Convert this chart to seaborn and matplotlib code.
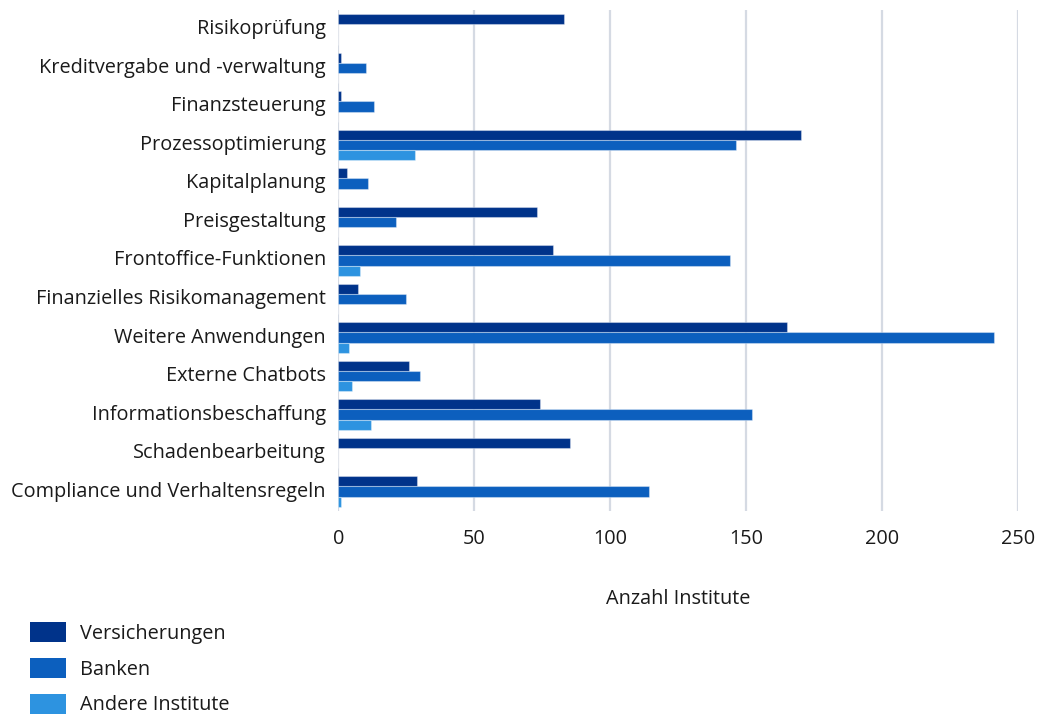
import matplotlib
matplotlib.use("Agg")
import matplotlib.pyplot as plt
import matplotlib.transforms as mtransforms
import seaborn as sns
import pandas as pd

categories = [
    "Risikoprüfung",
    "Kreditvergabe und -verwaltung",
    "Finanzsteuerung",
    "Prozessoptimierung",
    "Kapitalplanung",
    "Preisgestaltung",
    "Frontoffice-Funktionen",
    "Finanzielles Risikomanagement",
    "Weitere Anwendungen",
    "Externe Chatbots",
    "Informationsbeschaffung",
    "Schadenbearbeitung",
    "Compliance und Verhaltensregeln",
]
series = ["Versicherungen", "Banken", "Andere Institute"]
versicherungen = [83, 1, 1, 170, 3, 73, 79, 7, 165, 26, 74, 85, 29]
banken = [0, 10, 13, 146, 11, 21, 144, 25, 241, 30, 152, 0, 114]
andere = [0, 0, 0, 28, 0, 0, 8, 0, 4, 5, 12, 0, 1]
colors = ["#00338a", "#0c5fbe", "#2d93e0"]
x_ticks = [0, 50, 100, 150, 200, 250]

df = pd.DataFrame({
    "Anwendung": categories * 3,
    "Gruppe": [s for s in series for _ in categories],
    "Anzahl": versicherungen + banken + andere,
})

sns.set_theme(style="white")
plt.rcParams["font.family"] = ["Open Sans", "DejaVu Sans"]
text_color = "#1a1a1a"
fs = 14.3

fig = plt.figure(figsize=(10.46, 7.2), dpi=100)
ax = fig.add_axes([0.3236, 0.2906, 0.9737 - 0.3236, 0.9858 - 0.2906])

sns.barplot(
    data=df, y="Anwendung", x="Anzahl", hue="Gruppe",
    order=categories, hue_order=series, palette=colors,
    orient="h", width=0.8, ax=ax, legend=False,
    linewidth=0.8, edgecolor="#ffffff", saturation=1,
)
for bar in ax.patches:
    bar.set_edgecolor((1, 1, 1, 0.35))

ax.set_xlim(0, 250)
ax.set_xticks(x_ticks)
ax.set_xticklabels([str(t) for t in x_ticks])
ax.grid(axis="x", color="#d5dae3", linewidth=1.6)
ax.set_axisbelow(True)
for s in ax.spines.values():
    s.set_visible(False)
ax.tick_params(axis="y", length=0, pad=9, labelsize=fs, labelcolor=text_color)
ax.tick_params(axis="x", length=0, pad=13, labelsize=fs, labelcolor=text_color)
# nudge category labels slightly upward
shift = mtransforms.ScaledTranslation(0, 2.5 / 100, fig.dpi_scale_trans)
for lbl in ax.get_yticklabels():
    lbl.set_transform(lbl.get_transform() + shift)
ax.set_ylabel("")
ax.set_xlabel("Anzahl Institute", fontsize=fs, color=text_color, labelpad=29)

handles = [plt.Rectangle((0, 0), 1, 1, facecolor=c, edgecolor="none") for c in colors]
fig.legend(
    handles, series, loc="upper left", bbox_to_anchor=(0.029, 0.136),
    frameon=False, fontsize=fs, handlelength=1.8, handleheight=1.15,
    handletextpad=0.7, labelspacing=0.72, labelcolor=text_color,
    borderaxespad=0, borderpad=0,
)

fig.savefig("out.png", dpi=100)
